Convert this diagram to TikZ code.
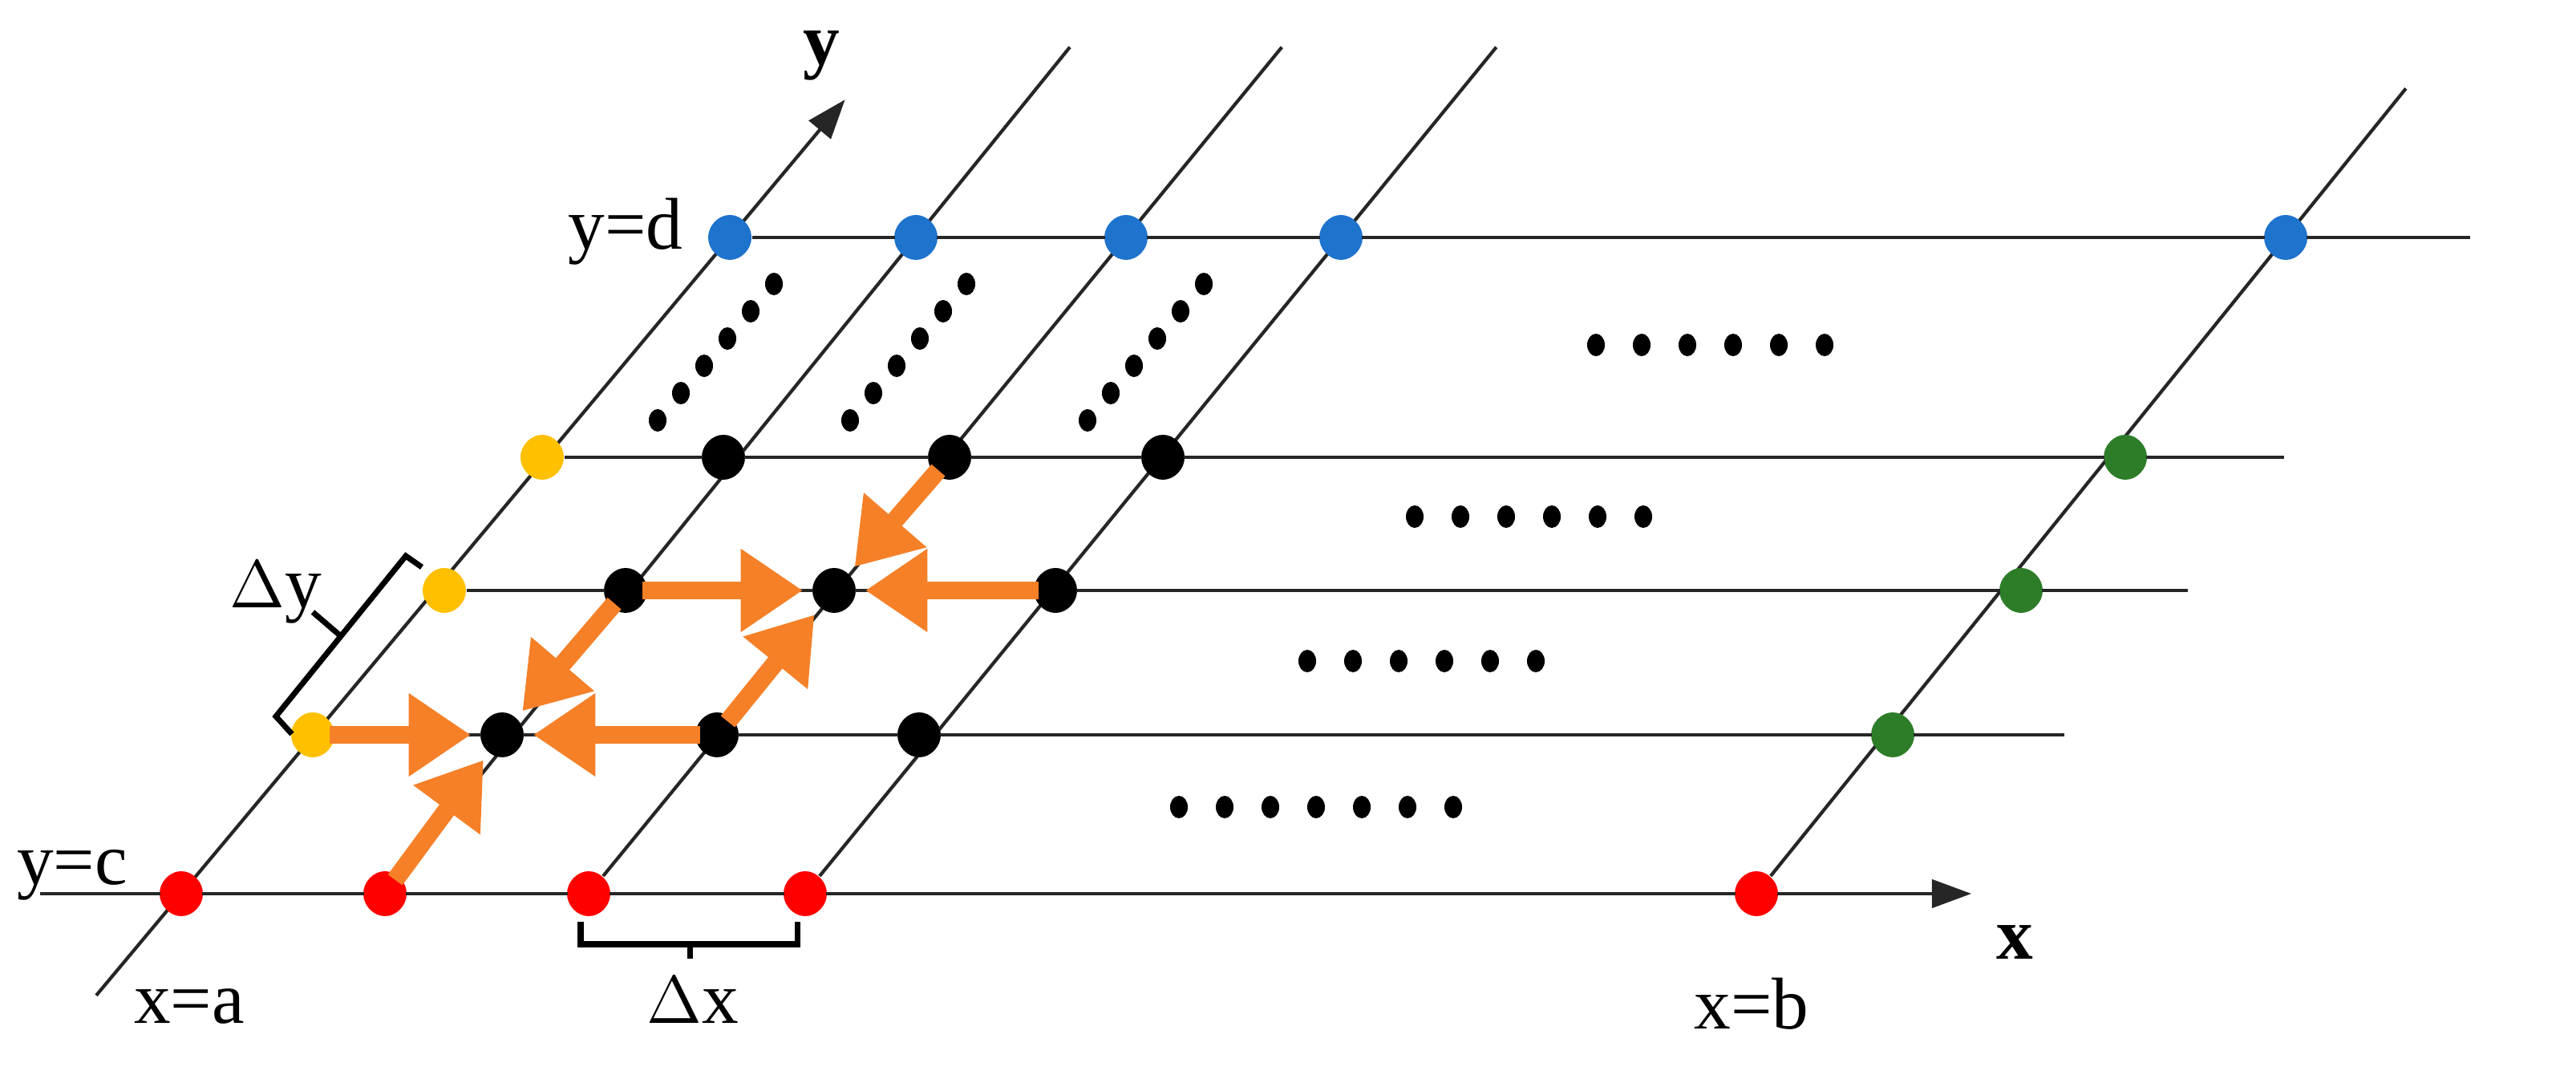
\documentclass[tikz,border=0pt]{standalone}
\usepackage{fontspec}
\setmainfont{Liberation Serif}
\usetikzlibrary{arrows.meta,calc,shapes.geometric}
\definecolor{dotred}{RGB}{255,0,0}
\definecolor{dotyellow}{RGB}{255,192,0}
\definecolor{dotblue}{RGB}{30,115,205}
\definecolor{dotgreen}{RGB}{45,125,40}
\definecolor{flow}{RGB}{245,128,40}
\tikzset{
  pt/.style = {circle, inner sep=0pt, minimum size=0.27cm},
  grid line/.style = {line width=0.6pt, black!85},
  flow arrow/.style = {draw=flow, line width=3.2pt, shorten <=-1pt, shorten >=1.5pt,
      -{Triangle[width=14pt,length=11pt]}},
  small dot/.style = {ellipse, fill=black, inner sep=0pt, minimum width=0.11cm, minimum height=0.14cm},
  lbl/.style = {font=\fontsize{13}{15}\selectfont, inner sep=0pt}
}
\begin{document}
\begin{tikzpicture}
\useasboundingbox (0,0) rectangle (16.06,6.675);

% grid points
\node[pt, fill=dotred] (r1) at (1.13,1.105) {};
\node[pt, fill=dotred] (r2) at (2.40,1.105) {};
\node[pt, fill=dotred] (r3) at (3.67,1.105) {};
\node[pt, fill=dotred] (r4) at (5.02,1.105) {};
\node[pt, fill=dotred] (r5) at (10.95,1.105) {};

\node[pt, fill=dotyellow] (y1) at (1.95,2.095) {};
\node[pt, fill=dotyellow] (y2) at (2.77,2.995) {};
\node[pt, fill=dotyellow] (y3) at (3.38,3.825) {};

\node[pt, fill=dotblue] (b1) at (4.55,5.195) {};
\node[pt, fill=dotblue] (b2) at (5.71,5.195) {};
\node[pt, fill=dotblue] (b3) at (7.02,5.195) {};
\node[pt, fill=dotblue] (b4) at (8.36,5.195) {};
\node[pt, fill=dotblue] (b5) at (14.25,5.195) {};

\node[pt, fill=dotgreen] (g1) at (11.80,2.095) {};
\node[pt, fill=dotgreen] (g2) at (12.60,2.995) {};
\node[pt, fill=dotgreen] (g3) at (13.25,3.825) {};

\node[pt, fill=black] (k11) at (3.13,2.095) {};
\node[pt, fill=black] (k12) at (4.47,2.095) {};
\node[pt, fill=black] (k13) at (5.73,2.095) {};
\node[pt, fill=black] (k21) at (3.90,2.995) {};
\node[pt, fill=black] (k22) at (5.20,2.995) {};
\node[pt, fill=black] (k23) at (6.58,2.995) {};
\node[pt, fill=black] (k31) at (4.51,3.825) {};
\node[pt, fill=black] (k32) at (5.92,3.825) {};
\node[pt, fill=black] (k33) at (7.25,3.825) {};

% free ends of the lines
\coordinate (xs) at (0.25,1.105);
\coordinate (xe) at (12.29,1.105);
\coordinate (e1) at (12.87,2.095);
\coordinate (e2) at (13.64,2.995);
\coordinate (e3) at (14.24,3.825);
\coordinate (e4) at (15.40,5.195);
\coordinate (ys) at ($(r1)!-0.155!(b1)$);
\coordinate (ye) at ($(r1)!1.21!(b1)$);
\coordinate (t2) at ($(r2)!1.29!(b2)$);
\coordinate (t3) at ($(r3)!1.29!(b3)$);
\coordinate (t4) at ($(r4)!1.29!(b4)$);
\coordinate (t5) at ($(r5)!1.227!(b5)$);

% horizontal lines
\draw[grid line, -{Triangle[width=5pt,length=7pt]}] (xs) -- (xe);
\draw[grid line] (y1) -- (e1);
\draw[grid line] (y2) -- (e2);
\draw[grid line] (y3) -- (e3);
\draw[grid line] (b1) -- (e4);
% slanted lines
\draw[grid line, -{Triangle[width=5pt,length=7pt]}] (ys) -- (ye);
\draw[grid line] (r2) -- (t2);
\draw[grid line] (r3) -- (t3);
\draw[grid line] (r4) -- (t4);
\draw[grid line] (r5) -- (t5);

% redraw points over the lines
\foreach \n/\c in {r1/dotred,r2/dotred,r3/dotred,r4/dotred,r5/dotred,
    y1/dotyellow,y2/dotyellow,y3/dotyellow,
    b1/dotblue,b2/dotblue,b3/dotblue,b4/dotblue,b5/dotblue,
    g1/dotgreen,g2/dotgreen,g3/dotgreen,
    k11/black,k12/black,k13/black,k21/black,k22/black,k23/black,
    k31/black,k32/black,k33/black}
  \fill[\c] (\n) ellipse (0.13 and 0.14);

% flow arrows
\draw[flow arrow] (y1) -- (k11);
\draw[flow arrow] (k12) -- (k11);
\draw[flow arrow] (r2) -- (k11);
\draw[flow arrow] (k21) -- (k11);
\draw[flow arrow] (k21) -- (k22);
\draw[flow arrow] (k23) -- (k22);
\draw[flow arrow] (k12) -- (k22);
\draw[flow arrow] (k32) -- (k22);

% ellipsis dots
\foreach \x in {4.10,5.30,6.78}
  \foreach \i in {0,...,5}
    \node[small dot] at (\x+0.145*\i,4.055+0.17*\i) {};
\foreach \x/\y/\m in {9.95/4.525/5, 8.82/3.455/5, 8.15/2.555/5, 7.35/1.645/6}
  \foreach \i in {0,...,\m}
    \node[small dot] at (\x+0.285*\i,\y) {};

% brackets
\draw[line width=1pt] (3.62,0.93) -- (3.62,0.79) -- (4.97,0.79) -- (4.97,0.93);
\draw[line width=1pt] (4.30,0.79) -- (4.30,0.70);
\draw[line width=1pt] (1.82,2.10) -- (1.72,2.21) -- (2.53,3.21) -- (2.63,3.14);
\draw[line width=1pt] (2.125,2.71) -- (1.95,2.86);

% labels
\node[lbl] (ly) at (5.12,6.33) {\textbf{y}};
\node[lbl] (lx) at (12.56,0.80) {\textbf{x}};
\node[lbl] (lyd) at (3.90,5.23) {y=d};
\node[lbl] (lyc) at (0.45,1.22) {y=c};
\node[lbl] (lxa) at (1.18,0.40) {x=a};
\node[lbl] (lxb) at (10.92,0.42) {x=b};
\node[lbl] (ldx) at (4.32,0.44) {$\Delta$x};
\node[lbl] (ldy) at (1.72,2.98) {$\Delta$y};
\end{tikzpicture}
\end{document}
